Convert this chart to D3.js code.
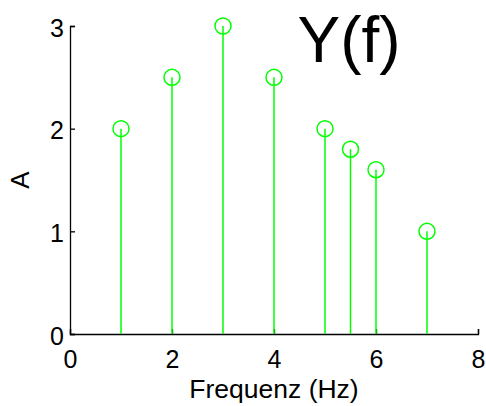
<!DOCTYPE html>
<html><head><meta charset="utf-8">
<script src="https://cdn.jsdelivr.net/npm/d3@7"></script>
<style>body{margin:0;background:#fff}svg{display:block}text{font-family:Arial,"Liberation Sans",sans-serif}</style>
</head><body><svg id="c" width="486" height="406"></svg>
<script>
const freqs = [1, 2, 3, 4, 5, 5.5, 6, 7];
const amps = [2, 2.5, 3, 2.5, 2, 1.8, 1.6, 1];
const xTicks = [0, 2, 4, 6, 8];
const yTicks = [0, 1, 2, 3];
const title = "Y(f)";
const xLabel = "Frequenz (Hz)";
const yLabel = "A";

const svg = d3.select("#c");
const x = d3.scaleLinear().domain([0, 8]).range([70, 478]);
const y = d3.scaleLinear().domain([0, 3]).range([334, 26]);
const green = "#00ff00";

// axes
const xa = svg.append("g").attr("transform", `translate(0,${y(0)})`)
  .call(d3.axisBottom(x).tickValues(xTicks).tickSize(-5).tickPadding(16).tickFormat(d3.format("d")));
const ya = svg.append("g").attr("transform", `translate(${x(0)},0)`)
  .call(d3.axisLeft(y).tickValues(yTicks).tickSize(-5).tickPadding(6).tickFormat(d3.format("d")));
[xa, ya].forEach(a => {
  a.select(".domain").attr("stroke", "#000").attr("stroke-width", 1.3);
  a.selectAll(".tick line").attr("stroke", "#000").attr("stroke-width", 1.3);
  a.selectAll(".tick text").attr("font-size", 25).attr("fill", "#000").attr("font-family", "Arial, 'Liberation Sans', sans-serif");
});
xa.selectAll(".tick text").attr("dy", "0.71em");
ya.selectAll(".tick text").attr("dy", "0.4em");

// stems
svg.append("g").selectAll("line").data(freqs).join("line")
  .attr("x1", d => x(d)).attr("x2", d => x(d))
  .attr("y1", y(0)).attr("y2", (d, i) => y(amps[i]))
  .attr("stroke", green).attr("stroke-width", 1.5);
svg.append("g").selectAll("circle").data(freqs).join("circle")
  .attr("cx", d => x(d)).attr("cy", (d, i) => y(amps[i])).attr("r", 8)
  .attr("fill", "none").attr("stroke", green).attr("stroke-width", 1.5);

// labels
svg.append("text").attr("x", 349).attr("y", 62).attr("text-anchor", "middle")
  .attr("font-size", 64).attr("fill", "#000").text(title);
svg.append("text").attr("x", 274).attr("y", 398).attr("text-anchor", "middle")
  .attr("font-size", 26.5).attr("fill", "#000").text(xLabel);
svg.append("text").attr("transform", `translate(29,${y(1.5)}) rotate(-90)`).attr("text-anchor", "middle")
  .attr("font-size", 26).attr("fill", "#000").text(yLabel);
</script></body></html>
